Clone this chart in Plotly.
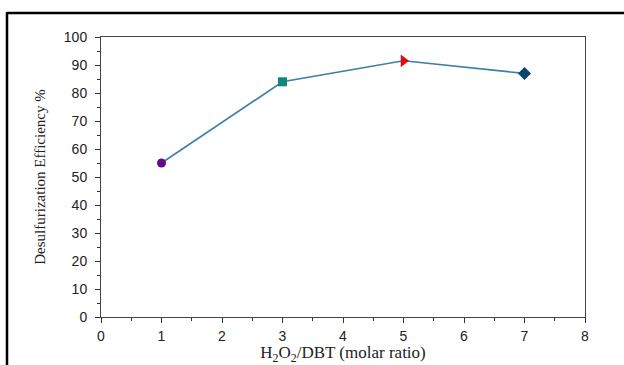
import plotly.graph_objects as go

ratio = [1, 3, 5, 7]
efficiency = [55, 84, 91.5, 87]
marker_symbols = ["circle", "square", "triangle-right", "diamond"]
marker_colors = ["#620a8a", "#0f8580", "#e00a14", "#0a4468"]
marker_sizes = [9, 9, 11, 10]

x_ticks = [0, 1, 2, 3, 4, 5, 6, 7, 8]
y_ticks = [0, 10, 20, 30, 40, 50, 60, 70, 80, 90, 100]

W, H = 624, 365
L, R, T, B = 101, 39, 37, 48

fig = go.Figure()
fig.add_trace(go.Scatter(
    x=ratio, y=efficiency, mode="lines+markers",
    line=dict(color="#3e7ea6", width=1.6),
    marker=dict(symbol=marker_symbols, color=marker_colors, size=marker_sizes,
                opacity=1, line=dict(width=0)),
    showlegend=False,
))

tickfont = dict(family="Liberation Sans, Arial", size=14, color="#222")
fig.update_xaxes(
    range=[0, 8], tickvals=x_ticks, ticks="outside", ticklen=5, tickwidth=1,
    tickcolor="#333", showline=True, linecolor="#444", linewidth=1, mirror=True,
    showgrid=False, zeroline=False, tickfont=tickfont, ticklabelstandoff=1,
    minor=dict(dtick=0.5, ticks="outside", ticklen=3, tickcolor="#333", showgrid=False),
    title=dict(text="H<sub>2</sub>O<sub>2</sub>/DBT (molar ratio)",
               font=dict(family="Liberation Serif, Times New Roman", size=17, color="#222"),
               standoff=4),
)
fig.update_yaxes(
    range=[0, 100], tickvals=y_ticks, ticks="outside", ticklen=5, tickwidth=1,
    tickcolor="#333", showline=True, linecolor="#444", linewidth=1, mirror=True,
    showgrid=False, zeroline=False, tickfont=tickfont, ticklabelstandoff=5,
    minor=dict(dtick=5, ticks="outside", ticklen=3, tickcolor="#333", showgrid=False),
    title=dict(text="Desulfurization Efficiency %",
               font=dict(family="Liberation Serif, Times New Roman", size=15, color="#222"),
               standoff=14),
)

pw, ph = W - L - R, H - T - B
fx = lambda px: (px - L) / pw
fy = lambda py: 1 - (py - T) / ph
fig.add_shape(type="line", xref="paper", yref="paper", x0=fx(7), x1=fx(630),
              y0=fy(13), y1=fy(13), line=dict(color="black", width=2.5))
fig.add_shape(type="line", xref="paper", yref="paper", x0=fx(7), x1=fx(7),
              y0=fy(12), y1=fy(370), line=dict(color="black", width=2.5))

fig.update_layout(
    width=W, height=H, margin=dict(l=L, r=R, t=T, b=B, autoexpand=False),
    paper_bgcolor="white", plot_bgcolor="white",
)
fig.write_html("out.html")
